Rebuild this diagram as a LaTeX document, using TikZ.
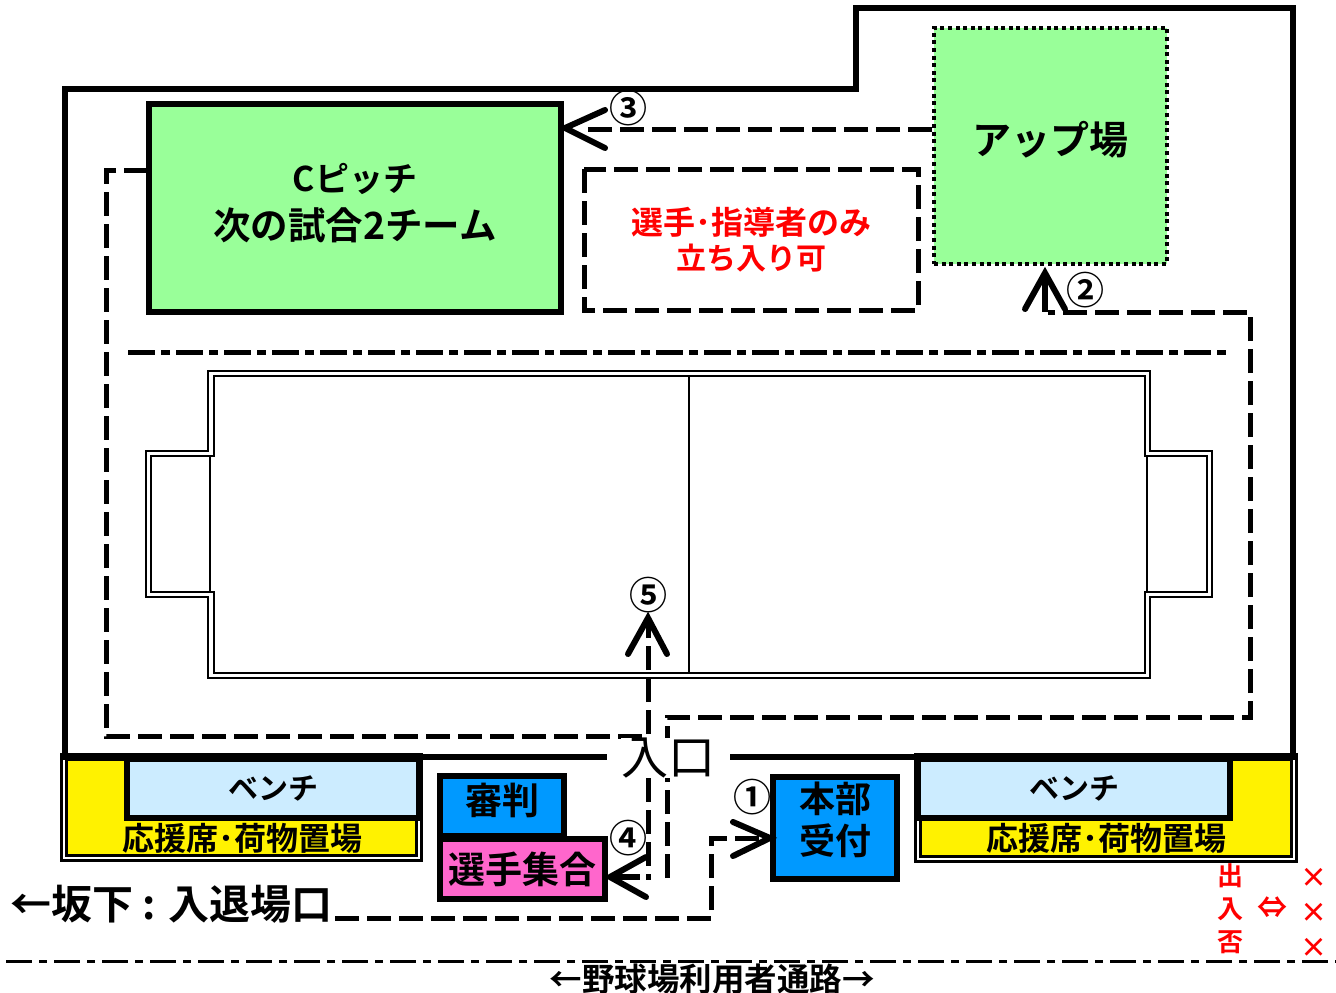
\documentclass[tikz,border=0pt]{standalone}
\usepackage{fontspec}
\setmainfont{Noto Sans CJK JP}[BoldFont={* Bold}]
\definecolor{skyblue}{HTML}{0099FF}
\definecolor{hotpink}{HTML}{FF66CC}
\definecolor{lawn}{HTML}{99FF99}
\definecolor{benchblue}{HTML}{CCECFF}
\tikzset{
    wall/.style={line width=6pt},
    route/.style={line width=5pt,dash pattern=on 24pt off 8pt},
    plain/.style={draw,line width=6pt,inner sep=0pt},
    touch/.style={line width=6pt,line cap=round},
    field/.style={line width=2.8pt},
    seats/.style={draw,double,double distance=2.5pt,line width=3pt,fill=yellow},
    num/.style={font=\bfseries\fontsize{38}{38}\selectfont,inner sep=0pt},
    big/.style={font=\bfseries\fontsize{37}{46}\selectfont,align=center,inner sep=0pt},
    mid/.style={font=\bfseries\fontsize{32}{38}\selectfont,align=center,inner sep=0pt},
    nogo/.style={font=\bfseries\fontsize{27}{27}\selectfont,text=red,inner sep=0pt},
}
\begin{document}
\begin{tikzpicture}[x=1pt,y=-1pt]
    \useasboundingbox (0,0) rectangle (1336,993);

    % outer fence
    \draw[wall] (65,757) -- (65,89) -- (856,89) -- (856,8) -- (1293,8) -- (1293,757);

    % seats and benches
    \node[seats,minimum width=355pt,minimum height=101pt] (seatL) at (241.5,807.5) {};
    \node[seats,minimum width=376pt,minimum height=102pt] (seatR) at (1106,808) {};
    \node[plain,fill=benchblue,minimum width=292pt,minimum height=59pt] (benchL) at (273,788) {};
    \node[plain,fill=benchblue,minimum width=312pt,minimum height=59pt] (benchR) at (1074,788) {};
    \node[mid,font=\bfseries\fontsize{30}{38}\selectfont] at (benchL) {ベンチ};
    \node[mid,font=\bfseries\fontsize{30}{38}\selectfont] at (benchR) {ベンチ};
    \node[mid] at (242,838) {応援席･荷物置場};
    \node[mid] at (1106,838) {応援席･荷物置場};
    \draw[wall] (62,757) -- (607,757);
    \draw[wall] (730,757) -- (1296,757);

    % pitch
    \draw[field] (208,371) -- (1150,371) -- (1150,451) -- (1212,451) -- (1212,597) -- (1150,597) -- (1150,678) -- (208,678) -- (208,597) -- (146,597) -- (146,451) -- (208,451) -- cycle;
    \draw[field] (214,376) -- (1145,376) -- (1145,456) -- (1207,456) -- (1207,592) -- (1145,592) -- (1145,673) -- (214,673) -- (214,592) -- (151,592) -- (151,456) -- (214,456) -- cycle;
    \draw[field] (210,456) -- (210,592);
    \draw[field] (1147,456) -- (1147,592);
    \draw[field] (689,376) -- (689,673);

    % routes
    \draw[route] (148,170) -- (106,170) -- (106,736) -- (648,736) -- (648,618);
    \draw[route] (648,778) -- (648,880);
    \draw[route] (667,878) -- (667,717) -- (1250,717) -- (1250,312) -- (1048,312);
    \draw[route] (335,918) -- (711,918) -- (711,838) -- (768,838);
    \draw[route] (932,129) -- (582,129);
    \draw[route] (584,169) rectangle (918,310);
    \draw[line width=5pt,dash pattern=on 27pt off 6pt on 9pt off 6pt] (128,352) -- (1230,352);
    \draw[line width=3pt,dash pattern=on 26pt off 7pt on 8pt off 7pt] (6,961) -- (1336,961);

    % boxes
    \node[plain,fill=lawn,minimum width=412pt,minimum height=208pt] (pitchC) at (355,208) {};
    \node[big,font=\bfseries\fontsize{37.5}{48}\selectfont] at (355,203) {{\fontsize{34}{48}\selectfont Cピッチ}\\次の試合2チーム};
    \node[draw,line width=4pt,dash pattern=on 4pt off 3.6pt,fill=lawn,minimum width=233pt,minimum height=236pt] (warm) at (1050.5,146) {};
    \node[font=\bfseries\fontsize{39}{39}\selectfont,inner sep=0pt] at (1050,140) {アップ場};
    \node[plain,fill=skyblue,minimum width=124pt,minimum height=60pt] (judge) at (502,806) {};
    \node[big] at (502,800) {審判};
    \node[plain,fill=hotpink,minimum width=165pt,minimum height=60pt] (meet) at (522.5,869) {};
    \node[big] at (meet) {選手集合};
    \node[plain,fill=skyblue,minimum width=124pt,minimum height=102pt] (desk) at (835,828) {};
    \node[big,font=\bfseries\fontsize{36}{42}\selectfont] at (835,820) {本部\\受付};

    % route heads
    \draw[touch] (646,857) -- (610,877) -- (646,897);
    \draw[line width=6pt] (610,877) -- (640,877);
    \draw[touch] (605,110) -- (565,128) -- (605,148);
    \draw[touch] (733,822) -- (770,838) -- (733,856);
    \draw[touch] (1025,309) -- (1045,273) -- (1065,309);
    \draw[line width=6pt] (1045,273) -- (1045,312);
    \draw[touch] (628,654) -- (648,618) -- (667,654);

    % numbers
    \node[num] at (628,108) {③};
    \node[num] at (1085,290) {②};
    \node[num] at (628,838) {④};
    \node[num] at (648,595) {⑤};
    \node[num] at (752,797) {①};

    % labels
    \node[mid,font=\bfseries\fontsize{32}{36}\selectfont,text=red] at (751,222) {選手･指導者のみ};
    \node[mid,font=\bfseries\fontsize{30}{36}\selectfont,text=red] at (751,258) {立ち入り可};
    \node[font=\fontsize{47}{47}\selectfont,fill=white,inner sep=0pt] at (668,758) {入口};
    \node[big,font=\bfseries\fontsize{41}{41}\selectfont,anchor=west] at (10,904) {←坂下 : 入退場口};
    \node[mid,font=\bfseries\fontsize{32.5}{38}\selectfont] at (712,979) {←野球場利用者通路→};
    \node[font=\bfseries\fontsize{26}{33}\selectfont,text=red,align=center,inner sep=0pt] at (1230,909) {出\\入\\否};
    \node[font=\bfseries\fontsize{30}{30}\selectfont,text=red,inner sep=0pt] at (1272,908) {⇔};
    \node[nogo] at (1314,878) {×};
    \node[nogo] at (1314,913) {×};
    \node[nogo] at (1314,948) {×};
\end{tikzpicture}
\end{document}
